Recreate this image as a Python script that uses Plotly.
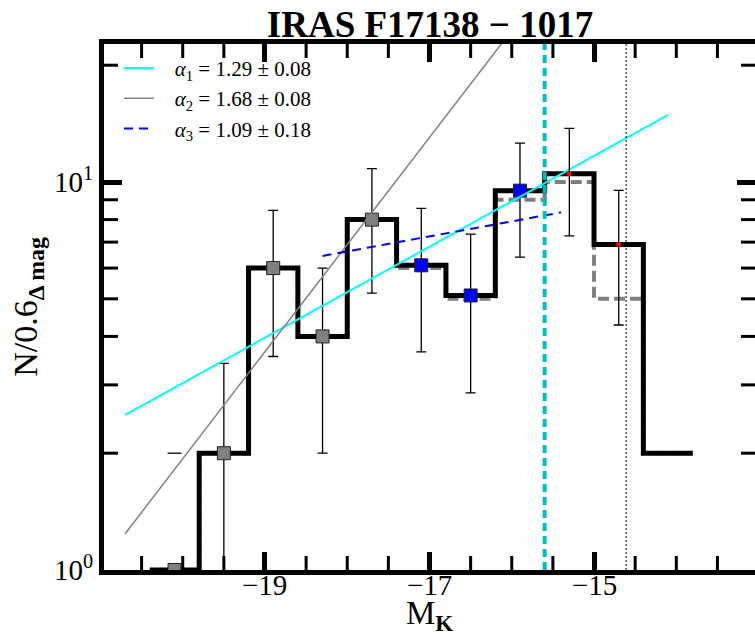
import plotly.graph_objects as go

# K-band luminosity function, 0.6 mag bins
bin_centers = [-20.1, -19.5, -18.9, -18.3, -17.7, -17.1, -16.5, -15.9, -15.3, -14.7, -14.1]
counts_corrected = [1, 2, 6, 4, 8, 6.1, 5.1, 9.5, 10.5, 6.9, 2]
counts_raw = [1, 2, 6, 4, 8, 6, 5, 9, 10, 5, 2]
bin_width = 0.6

# binned points with Poisson errors
gray_x = [-20.1, -19.5, -18.9, -18.3, -17.7]
gray_y = [1, 2, 6, 4, 8]
gray_err_x = [-19.5, -18.9, -18.3, -17.7]
gray_err_y = [2, 6, 4, 8]
gray_err = [1.41, 2.45, 2.0, 2.83]
first_bin_cap_x = [-20.1]
first_bin_cap_y = [2]
blue_x = [-17.1, -16.5, -15.9]
blue_y = [6.1, 5.1, 9.5]
blue_err = [2.45, 2.24, 3.1]
red_x = [-15.3, -14.7]
red_y = [10.5, 6.9]
red_err = [3.24, 2.62]

# power-law fits (end points)
fit1_x = [-20.7, -14.1]
fit1_y = [2.51, 14.9]
fit2_x = [-20.7, -16.0]
fit2_y = [1.24, 24.6]
fit3_x = [-18.3, -15.4]
fit3_y = [6.45, 8.35]
PAD = "\u00a0" * 3
fit_names = [PAD + "<i>α</i><sub>1</sub> = 1.29 ± 0.08",
             PAD + "<i>α</i><sub>2</sub> = 1.68 ± 0.08",
             PAD + "<i>α</i><sub>3</sub> = 1.09 ± 0.18"]

completeness_limit = -15.6
dotted_limit = -14.61

x_range = [-20.957, -13.043]
x_ticks = [-19, -17, -15]
x_ticktext = ["−19", "−17", "−15"]
x_minor = [-20.5, -20, -19.5, -18.5, -18, -17.5, -16.5, -16, -15.5,
           -14.5, -14, -13.5]
y_range_log = [0, 1.3557]
y_ticks = [1, 10]
y_ticktext = ["10<sup>0</sup>", "10<sup>1</sup>"]
y_minor = [2, 3, 4, 5, 6, 7, 8, 9, 20]

FONT = "Liberation Serif"


def step_xy(centers, values, width):
    xs = [c - width / 2 for c in centers] + [centers[-1] + width / 2]
    ys = list(values) + [values[-1]]
    return xs, ys


fig = go.Figure()

rx, ry = step_xy(bin_centers, counts_raw, bin_width)
fig.add_trace(go.Scatter(x=rx, y=ry, mode="lines", line_shape="hv",
                         line=dict(color="#808080", width=4, dash="11px,5px"),
                         showlegend=False, hoverinfo="skip"))
cx, cy = step_xy(bin_centers, counts_corrected, bin_width)
fig.add_trace(go.Scatter(x=cx, y=cy, mode="lines", line_shape="hv",
                         line=dict(color="black", width=5),
                         showlegend=False, hoverinfo="skip"))

err_style = dict(type="data", color="black", thickness=1.3, width=5)

fig.add_trace(go.Scatter(x=gray_err_x, y=gray_err_y, mode="markers",
                         marker=dict(size=1, color="rgba(0,0,0,0)"),
                         error_y=dict(array=gray_err, **err_style),
                         showlegend=False, hoverinfo="skip"))
fig.add_trace(go.Scatter(x=first_bin_cap_x, y=first_bin_cap_y, mode="markers",
                         marker=dict(symbol="line-ew", size=10,
                                     line=dict(color="black", width=1.3)),
                         showlegend=False, hoverinfo="skip"))
fig.add_trace(go.Scatter(x=gray_x, y=gray_y, mode="markers",
                         marker=dict(symbol="square", size=13, color="#808080",
                                     line=dict(color="#222222", width=1)),
                         showlegend=False, hoverinfo="skip"))
fig.add_trace(go.Scatter(x=blue_x, y=blue_y, mode="markers",
                         marker=dict(symbol="square", size=13, color="#0000ff",
                                     line=dict(color="#222222", width=1)),
                         error_y=dict(array=blue_err, **err_style),
                         showlegend=False, hoverinfo="skip"))

fig.add_trace(go.Scatter(x=fit1_x, y=fit1_y, mode="lines", name=fit_names[0],
                         line=dict(color="#00ffff", width=2)))
fig.add_trace(go.Scatter(x=fit2_x, y=fit2_y, mode="lines", name=fit_names[1],
                         line=dict(color="#808080", width=1.5)))
fig.add_trace(go.Scatter(x=fit3_x, y=fit3_y, mode="lines", name=fit_names[2],
                         line=dict(color="#0000ff", width=2, dash="9px,6px")))

fig.add_trace(go.Scatter(x=red_x, y=red_y, mode="markers",
                         marker=dict(symbol="circle", size=5, color="#ff0000"),
                         error_y=dict(array=red_err, **err_style),
                         showlegend=False, hoverinfo="skip"))

fig.add_vline(x=completeness_limit, line=dict(color="#00bfbf", width=4, dash="8px,5px"))
fig.add_vline(x=dotted_limit, line=dict(color="black", width=1, dash="2px,2px"))

# minor tick marks along the frame (outer half is clipped by the plot area)
y_lo, y_hi = 10 ** y_range_log[0], 10 ** y_range_log[1]
minor_marker = dict(size=20, color="black", line=dict(color="black", width=3))
for y_edge in (y_lo, y_hi):
    fig.add_trace(go.Scatter(x=x_minor, y=[y_edge] * len(x_minor), mode="markers",
                             marker=dict(symbol="line-ns", **minor_marker),
                             cliponaxis=True, showlegend=False, hoverinfo="skip"))
for x_edge in x_range:
    fig.add_trace(go.Scatter(x=[x_edge] * len(y_minor), y=y_minor, mode="markers",
                             marker=dict(symbol="line-ew", **minor_marker),
                             cliponaxis=True, showlegend=False, hoverinfo="skip"))

# x tick labels and axis title
for v, t in zip(x_ticks, x_ticktext):
    fig.add_annotation(x=v, xref="x", y=0, yref="paper", yanchor="top",
                       xanchor="center", yshift=3, text=t, showarrow=False,
                       font=dict(size=29))
fig.add_annotation(x=0.5, xref="paper", y=0, yref="paper", yanchor="top",
                   xanchor="center", yshift=-23, text="M<sub><b>K</b></sub>",
                   showarrow=False, font=dict(size=33))

fig.update_layout(
    width=755, height=636,
    margin=dict(l=104, r=0, t=44, b=66),
    paper_bgcolor="white", plot_bgcolor="white",
    font=dict(family=FONT, color="black"),
    title=dict(text="<b>IRAS F17138 − 1017</b>", x=430 / 755, xanchor="center",
               y=1 - 24 / 636, yanchor="middle", font=dict(size=37)),
    legend=dict(x=0.023, y=0.9927, xanchor="left", yanchor="top",
                bgcolor="rgba(0,0,0,0)", font=dict(size=21),
                tracegroupgap=0),
    showlegend=True,
)

fig.update_layout(
    xaxis=dict(
        range=x_range, automargin=False,
        tickmode="array", tickvals=x_ticks, showticklabels=False,
        ticks="inside", ticklen=18, tickwidth=5, tickcolor="black",
        showline=True, linewidth=5, linecolor="black", mirror="ticks",
        showgrid=False, zeroline=False,
    ),
    yaxis=dict(
        type="log", range=y_range_log, automargin=False,
        tickmode="array", tickvals=y_ticks, ticktext=y_ticktext,
        ticks="inside", ticklen=18, tickwidth=5, tickcolor="black",
        showline=True, linewidth=5, linecolor="black", mirror="ticks",
        showgrid=False, zeroline=False,
        tickfont=dict(size=29),
        title=dict(text="N/0.6<sub><b>Δ mag</b></sub>", font=dict(size=34), standoff=8),
    ),
)

fig.write_html("out.html")
